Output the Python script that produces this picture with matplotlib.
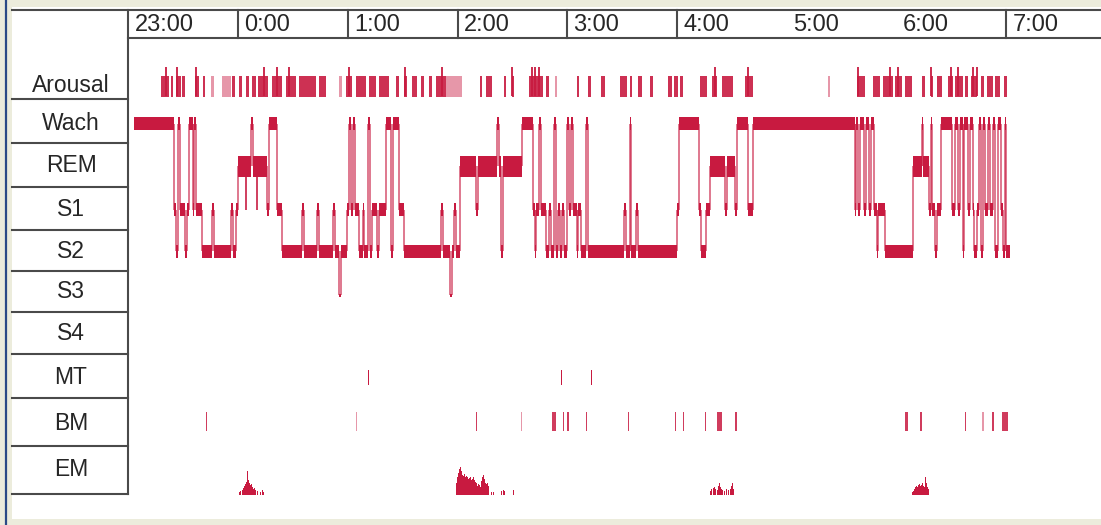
import matplotlib
matplotlib.use("Agg")
import matplotlib.pyplot as plt
from matplotlib.patches import Rectangle
import numpy as np

# ---------------------------------------------------------------- data
# time axis: minutes after 23:00
hour_labels = ["23:00", "0:00", "1:00", "2:00", "3:00", "4:00", "5:00", "6:00", "7:00"]
hour_divided = [True, True, True, True, True, True, False, False, True]

row_labels = ["Arousal", "Wach", "REM", "S1", "S2", "S3", "S4", "MT", "BM", "EM"]

# hypnogram: start minute of each scored stage, stage name
hyp_start = [3, 25, 26, 27, 28, 31, 32, 33, 35, 36, 37, 40, 45.5, 46.5, 56, 57, 59,
             60, 64, 64.5, 67, 68, 70, 70.5, 75.5, 77, 81, 84, 95, 96, 103, 104,
             112, 113, 115, 116, 119.5, 120.5, 121.5, 123, 124, 126, 128, 129, 131,
             132, 133, 136, 137, 141, 143.5, 144.5, 148, 150.5, 171, 172, 176, 177,
             178, 179, 181, 190, 191, 201.5, 202.5, 203.5, 205, 215, 221, 222, 223,
             224.5, 225.5, 228.5, 230, 231, 232.5, 233.5, 235, 236, 237, 238, 240,
             241, 242, 243, 245, 246, 247.5, 250, 251, 271, 272, 274, 274.5, 277.5,
             278.5, 300, 301, 312, 313, 316, 318, 326, 327, 331.5, 332.5, 338.5,
             341.5, 397, 398, 399, 400, 402, 403, 405, 406, 407.5, 409, 410, 413.5,
             429, 434, 434.5, 437.5, 438.5, 439.5, 441, 442, 444, 450, 452, 453.5,
             454.5, 456, 457, 459, 460, 461.5, 462.5, 464, 465, 466, 467, 468.5, 470,
             471, 472.5, 474, 475.5, 477, 478, 479, 480]
hyp_stage = ["Wach", "S1", "S2", "Wach", "S1", "S2", "S1", "Wach", "S1", "Wach", "S1",
             "S2", "S1", "S2", "S1", "S2", "S1",
             "REM", "S1", "REM", "Wach", "REM", "S1", "REM", "S1", "Wach", "S1", "S2",
             "S1", "S2", "S1", "S2",
             "S1", "S2", "S3", "S2", "S1", "Wach", "S1", "Wach", "S1", "S2", "S1", "S2",
             "Wach",
             "S2", "S1", "S2", "S1", "Wach", "S2", "Wach", "S1", "S2", "S1", "S2", "S3",
             "S2",
             "S1", "S2", "REM", "S1", "REM", "Wach", "REM", "S2", "REM", "Wach", "S1",
             "S2", "S1",
             "Wach", "S1", "S2", "S1", "S2", "Wach", "S2", "S1", "S2", "S1", "S2",
             "Wach",
             "S1", "Wach", "S1", "S2", "S1", "S2", "Wach", "S2", "S1", "S2", "Wach",
             "S2", "S1",
             "S2", "S1", "Wach", "S1", "S2", "S1", "REM", "S1", "REM", "S1", "Wach",
             "S1",
             "Wach", "S1", "Wach", "S1", "Wach", "S1", "Wach", "S1", "Wach", "S1", "S2",
             "S1", "S2",
             "REM", "Wach", "REM", "S1", "Wach", "S1", "S2", "S1", "Wach", "S1", "Wach",
             "S1",
             "Wach", "S2", "Wach", "S1", "Wach", "S1", "S2", "S1", "Wach", "S2", "Wach",
             "S1", "Wach",
             "S1", "Wach", "S2", "Wach", "S1", "S2", "Wach", "S2"]
hyp_end = 482

# arousal events (start, end in minutes) and the stronger ones
arousal_start = [18, 23, 26, 29, 36.5, 41, 45, 51, 56.5, 60.5, 64, 67.5, 71, 78.5, 86,
                 93, 104, 115, 119, 124.5, 131.5, 137, 146.5, 150.5, 155, 160, 164.5,
                 168, 170, 173.5, 192, 195.5, 205.5, 209.5, 219, 228.5, 233, 245, 251,
                 258.5, 268.5, 274, 278.5, 285, 295, 298.5, 301.5, 312.5, 319, 324.5,
                 337, 382.5, 398.5, 407, 412.5, 419, 424.5, 434, 438.5, 442, 448, 452,
                 457.5, 460.5, 466, 469.5, 474, 478.5]
arousal_end = [22, 24.5, 28.5, 31, 38.5, 42, 46.5, 56, 58.5, 62, 66, 69.5, 76.5, 84, 91.5,
               102.5, 108, 116.5, 122, 130, 135.5, 142.5, 148, 152.5, 157.5, 161.5,
               166, 170, 173.5, 182.5, 193.5, 198.5, 206.5, 211, 226.5, 230, 234.5,
               246.5, 253, 260.5, 272.5, 275.5, 280.5, 286.5, 297, 300.5, 303, 316.5,
               321.5, 330.5, 341.5, 383.5, 402.5, 411, 418, 423, 428.5, 435.5, 440,
               445, 451, 456.5, 459, 464, 467.5, 472.5, 476.5, 480.5]
arousal_weak = [51, 115, 173.5, 382.5, 45, 233]
arousal_strong = [20.5, 26.5, 37, 74, 81, 88, 120.5, 151, 171.5, 209.5, 220.5, 222.5,
                  224.5, 320.5, 338.5, 399, 416.5, 420.5, 438.5, 449.5, 453.5, 461.5,
                  464]

# movement time and body movements (start, duration in minutes)
mt_start = [131, 236.2, 252.6]
mt_dur = [0.6, 0.6, 0.6]
bm_start = [42.2, 124.4, 190.1, 214.8, 231.8, 237.3, 240, 249.9, 272.9, 298.6, 303,
            315, 321.6, 331.8, 424.7, 432.9, 457.5, 466.8, 472.3, 477.8]
bm_dur = [0.8, 0.5, 0.6, 0.5, 2.0, 0.6, 0.6, 0.6, 0.6, 0.6, 0.6, 0.6, 3.0, 0.7, 1.5,
          0.7, 0.6, 1.2, 0.8, 3.0]
bm_weak = [124.4, 214.8, 466.8]

# eye movement density
em_t = [60.5, 61, 61.5, 62.5, 63, 63.5, 64, 64.5, 65, 65.5, 66, 66.5, 67, 67.5, 68,
        68.5, 69, 69.5, 70.5, 72, 73.5, 74,
        179.5, 180, 180.5, 181, 181.5, 182, 182.5, 183, 183.5, 184, 184.5, 185, 185.5,
        186, 186.5, 187, 187.5, 188, 188.5, 189, 189.5, 190, 190.5, 191, 191.5, 192,
        192.5, 193, 193.5, 194, 194.5, 195, 195.5, 196, 196.5, 197, 198.5, 199.5, 204,
        205, 205.5, 210.5,
        318, 318.5, 319, 320, 320.5, 321, 322, 322.5, 323, 323.5, 324, 325, 326, 327,
        328, 329, 329.5, 330, 330.5, 331,
        428.5, 429, 429.5, 430, 430.5, 431, 431.5, 432, 432.5, 433, 433.5, 434, 434.5,
        435, 435.5, 436, 436.5, 437, 437.5]
em_v = [3, 4, 3, 5, 7, 9, 11, 13, 24, 15, 12, 10, 9, 11, 8, 6, 7, 5, 4, 3, 5, 3,
        12, 18, 22, 26, 28, 24, 20, 19, 21, 18, 17, 19, 18, 16, 17, 18, 15, 16, 18, 15,
        13, 12, 10, 9, 11, 10, 8, 14, 18, 20, 16, 12, 10, 11, 12, 9, 3, 3, 4, 5, 4, 5,
        4, 6, 5, 7, 8, 6, 5, 9, 12, 8, 6, 5, 4, 6, 5, 6, 9, 12, 8, 6,
        3, 4, 5, 6, 8, 9, 8, 10, 11, 9, 10, 12, 9, 8, 14, 18, 12, 8, 6]

# ---------------------------------------------------------------- layout
W, H = 1101, 525
X0, PX_PER_MIN = 128.5, 1.829
RED = "#C81A40"
LINE = "#4a4a4a"
TXT = "#262626"
FONT = "Liberation Sans"

row_center = {"Arousal": 86, "Wach": 123.5, "REM": 166, "S1": 209.5, "S2": 251,
              "S3": 292, "S4": 333, "MT": 378, "BM": 423, "EM": 470}
row_lines = [99, 143, 187, 230, 271, 312, 354, 398, 446, 494]
band_h = {"Wach": 13, "REM": 21, "S1": 13, "S2": 13, "S3": 3, "S4": 3}
stage_y = {"Wach": 123.5, "REM": 166, "S1": 209.5, "S2": 251, "S3": 295, "S4": 333}


def to_min(px):
    return (px - X0) / PX_PER_MIN


fig = plt.figure(figsize=(W / 100, H / 100), dpi=100)
fig.patch.set_facecolor("#ECECDC")
ax = fig.add_axes([0, 0, 1, 1])
ax.set_axis_off()
ax.set_xlim(to_min(0), to_min(W))
ax.set_ylim(H, 0)

# white panel and left border stripe
ax.add_patch(Rectangle((to_min(12), 7), to_min(W) - to_min(12), 512,
                       facecolor="white", edgecolor="none", zorder=0))
ax.plot([to_min(5.5)] * 2, [0, H], color="#2B4A86", lw=1.6, zorder=1)

# header grid
ax.plot([to_min(12), to_min(W)], [10, 10], color=LINE, lw=1.5, zorder=2)
ax.plot([to_min(128), to_min(W)], [38, 38], color=LINE, lw=1.5, zorder=2)
ax.plot([to_min(128)] * 2, [10, 494], color=LINE, lw=1.5, zorder=2)
for i, (lab, div) in enumerate(zip(hour_labels, hour_divided)):
    m = i * 60
    if div and i > 0:
        ax.plot([m, m], [10, 38], color=LINE, lw=1.5, zorder=2)
    ax.text(m + 3.3, 25, lab, fontsize=17, family=FONT, color=TXT,
            ha="left", va="center")

# row labels and separators
for y in row_lines:
    ax.plot([to_min(12), to_min(128)], [y, y], color=LINE, lw=1.5, zorder=2)
for lab in row_labels:
    ax.text(to_min(71), row_center[lab], lab, fontsize=16.5, family=FONT, color=TXT,
            ha="center", va="center")

# hypnogram: transitions then stage bands
ends = hyp_start[1:] + [hyp_end]
for k in range(1, len(hyp_start)):
    y0 = stage_y[hyp_stage[k - 1]]
    y1 = stage_y[hyp_stage[k]]
    ax.vlines(hyp_start[k], min(y0, y1), max(y0, y1), color=RED, lw=1.1,
              alpha=0.75, zorder=3)
for s, e, st in zip(hyp_start, ends, hyp_stage):
    ax.barh(stage_y[st], e - s, left=s, height=band_h[st], color=RED,
            edgecolor="none", zorder=4)

# arousals
for s, e in zip(arousal_start, arousal_end):
    a = 0.45 if s in arousal_weak else 0.9
    ax.barh(86, e - s, left=s, height=21, color=RED, alpha=a, edgecolor="none",
            zorder=3)
ax.vlines(arousal_strong, 67, 96, color=RED, lw=1.3, zorder=3)

# movement time and body movements
for s, d in zip(mt_start, mt_dur):
    ax.barh(377.5, d, left=s, height=15, color=RED, edgecolor="none", zorder=3)
for s, d in zip(bm_start, bm_dur):
    a = 0.45 if s in bm_weak else 0.85
    ax.barh(421, d, left=s, height=19, color=RED, alpha=a, edgecolor="none", zorder=3)

# eye movements
ax.bar(em_t, -np.array(em_v), bottom=495, width=0.55, color=RED, edgecolor="none",
       zorder=3)

fig.savefig("out.png", dpi=100, facecolor=fig.get_facecolor())
